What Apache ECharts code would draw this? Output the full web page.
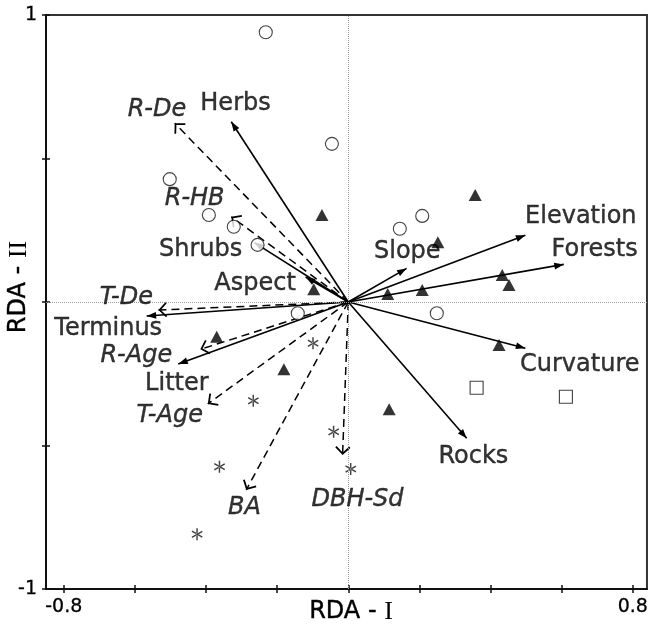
<!DOCTYPE html>
<html>
<head>
<meta charset="utf-8">
<script src="https://cdn.jsdelivr.net/npm/echarts@6/dist/echarts.min.js"></script>
<style>
html,body{margin:0;padding:0;background:#fff;}
#chart{width:651px;height:632px;}
</style>
</head>
<body>
<div id="chart"></div>
<script>
// ---- site scores (RDA-I, RDA-II) ----
const sitesCircle = [[-0.232,0.940],[-0.046,0.551],[-0.502,0.428],[-0.392,0.303],[-0.322,0.262],[-0.255,0.199],[-0.142,-0.039],[0.145,0.255],[0.208,0.300],[0.249,-0.039]];
const sitesTriangle = [[-0.074,0.303],[-0.097,0.044],[0.357,0.373],[0.252,0.208],[0.433,0.094],[0.452,0.059],[0.208,0.042],[0.111,0.028],[-0.370,-0.121],[-0.181,-0.234],[0.424,-0.150],[0.115,-0.374]];
const sitesSquare = [[0.361,-0.299],[0.612,-0.330]];
const sitesAsterisk = [[-0.099,-0.144],[-0.267,-0.344],[-0.362,-0.574],[-0.425,-0.809],[-0.041,-0.452],[0.007,-0.582]];

// ---- environmental variables (solid arrows) ----
const envNames = ['Herbs','Shrubs','Aspect','Terminus','Litter','Slope','Elevation','Forests','Curvature','Rocks'];
const envX = [-0.329,-0.264,-0.120,-0.567,-0.478,0.164,0.498,0.606,0.498,0.333];
const envY = [0.628,0.207,0.087,-0.049,-0.216,0.117,0.233,0.131,-0.161,-0.475];
const envLabelPos = [[-0.317,0.690],[-0.415,0.181],[-0.262,0.063],[-0.675,-0.094],[-0.482,-0.286],[0.166,0.174],[0.654,0.296],[0.693,0.181],[0.651,-0.220],[0.352,-0.540]];

// ---- response variables (dashed arrows) ----
const respNames = ['R-De','R-HB','T-De','R-Age','T-Age','BA','DBH-Sd'];
const respX = [-0.488,-0.329,-0.534,-0.416,-0.395,-0.287,-0.016];
const respY = [0.623,0.297,-0.028,-0.165,-0.355,-0.655,-0.533];
const respLabelPos = [[-0.538,0.669],[-0.432,0.359],[-0.624,0.014],[-0.596,-0.188],[-0.502,-0.397],[-0.292,-0.718],[0.026,-0.690]];

// ---- axis ticks / labels ----
const xTicks = [-0.8,-0.6,-0.4,-0.2,0,0.2,0.4,0.6,0.8];
const xTickLabels = [-0.8,0.8];
const yTicks = [-1,-0.5,0,0.5,1];
const yTickLabels = [-1,1];

const FONT = 'DejaVu Sans';
const solidHead = 'path://M0,0 M20,20 M10,10 L13.4,19.5 L6.6,19.5 Z';
const openHead = 'path://M0,0 M20,20 M10,10 L16.6,16.4 L15.5,17.5 L10,12.1 L4.5,17.5 L3.4,16.4 Z';
const asteriskPath = 'path://M44,0 L56,0 L56,100 L44,100 Z M10.3,81.2 L96.9,31.2 L90.9,20.8 L4.3,70.8 Z M4.3,29.2 L90.9,79.2 L96.9,68.8 L10.3,18.8 Z';

const chart = echarts.init(document.getElementById('chart'), null, {renderer:'canvas'});

function axisX(idx){
  return {
    type:'value', min:-0.85, max:0.84, position:'bottom', gridIndex:0,
    axisLine:{show: idx===0, onZero:false, lineStyle:{color:'#111', width:2}},
    axisTick:{show:true, inside: idx===0, length:4, customValues:xTicks, lineStyle:{color:'#111', width:1.5}},
    axisLabel:{show: idx===0, customValues:xTickLabels, margin:9, fontFamily:FONT, fontSize:19, color:'#000',
      textBorderColor:'#000', textBorderWidth:0.3},
    splitLine:{show:false}
  };
}
function axisY(idx){
  return {
    type:'value', min:-1, max:1, interval:0.5, position:'left', gridIndex:0,
    axisLine:{show: idx===0, onZero:false, lineStyle:{color:'#111', width:2}},
    axisTick:{show:true, inside: idx===0, length:4, customValues:yTicks, lineStyle:{color:'#111', width:1.5}},
    axisLabel:{show: idx===0, customValues:yTickLabels, margin:9, fontFamily:FONT, fontSize:19, color:'#000',
      textBorderColor:'#000', textBorderWidth:0.3},
    splitLine:{show:false}
  };
}

const envLines = envNames.map((n,i)=>({name:n, coords:[[0,0],[envX[i],envY[i]]]}));
const respLines = respNames.map((n,i)=>({name:n, coords:[[0,0],[respX[i],respY[i]]]}));
const envLabels = envNames.map((n,i)=>({name:n, value:envLabelPos[i]}));
const respLabels = respNames.map((n,i)=>({name:n, value:respLabelPos[i]}));

const labelSeries = (data, italic) => ({
  type:'scatter', data, symbolSize:1, silent:true, z:5,
  itemStyle:{color:'rgba(0,0,0,0)'},
  label:{show:true, position:'inside', formatter:'{b}', fontFamily:FONT, fontSize:24,
    fontStyle: italic ? 'italic' : 'normal', color:'#000', textBorderColor:'#000', textBorderWidth:0.4},
  emphasis:{disabled:true}
});

const nameRich = {
  a:{fontFamily:FONT, fontSize:24, fill:'#000', stroke:'#000', lineWidth:0.4},
  b:{fontFamily:'Liberation Serif', fontSize:26, fill:'#000'}
};

chart.setOption({
  animation:false,
  backgroundColor:'#fff',
  grid:{left:46, right:1, top:15, bottom:43, show:true, borderColor:'#333', borderWidth:2, backgroundColor:'#fff'},
  xAxis:[axisX(0), axisX(1)],
  yAxis:[axisY(0), axisY(1)],
  graphic:[
    {type:'text', x:351, y:612, silent:true,
      style:{text:'{a|RDA - }{b|I}', align:'center', verticalAlign:'middle', rich:nameRich}},
    {type:'text', x:19, y:287, rotation:Math.PI/2, silent:true,
      style:{text:'{a|RDA - }{b|II}', align:'center', verticalAlign:'middle', rich:nameRich}}
  ],
  series:[
    {
      type:'scatter', data:[], silent:true,
      markLine:{silent:true, symbol:['none','none'], label:{show:false},
        lineStyle:{type:'dotted', color:'#999', width:1},
        data:[{xAxis:0},{yAxis:0}]}
    },
    {
      type:'lines', coordinateSystem:'cartesian2d', data:respLines, silent:true, z:3,
      symbol:['none', openHead], symbolSize:23,
      lineStyle:{color:'#000', width:1.5, type:[8,5], opacity:1}
    },
    {
      type:'lines', coordinateSystem:'cartesian2d', data:envLines, silent:true, z:3,
      symbol:['none', solidHead], symbolSize:20,
      lineStyle:{color:'#000', width:1.6, type:'solid', opacity:1}
    },
    {type:'scatter', data:sitesCircle, symbol:'circle', symbolSize:13, silent:true, z:4,
      itemStyle:{color:'#fff', borderColor:'#111', borderWidth:1.1}},
    {type:'scatter', data:sitesSquare, symbol:'rect', symbolSize:13, silent:true, z:4,
      itemStyle:{color:'#fff', borderColor:'#111', borderWidth:1.1}},
    {type:'scatter', data:sitesTriangle, symbol:'triangle', symbolSize:[13,12], silent:true, z:4,
      itemStyle:{color:'#000'}},
    {type:'scatter', data:sitesAsterisk, symbol:asteriskPath, symbolSize:12, symbolKeepAspect:true, silent:true, z:4,
      itemStyle:{color:'#111'}},
    labelSeries(envLabels, false),
    labelSeries(respLabels, true)
  ]
});
</script>
</body>
</html>
